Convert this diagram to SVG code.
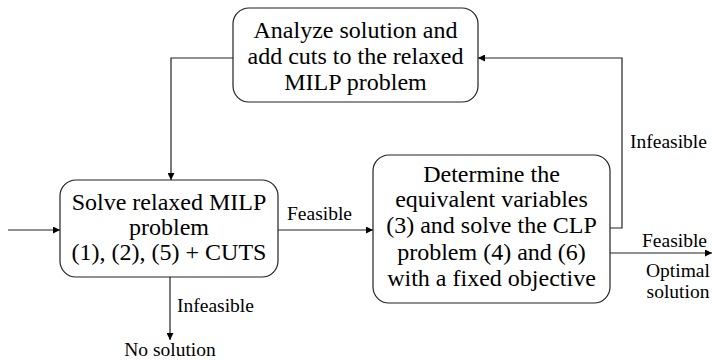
<svg xmlns="http://www.w3.org/2000/svg" width="713" height="360" viewBox="0 0 713 360" font-family="Liberation Serif, Times New Roman, Tinos, DejaVu Serif, serif">
  <style>
    .box { fill: #fff; stroke: #222; stroke-width: 1.2; }
    .edge { fill: none; stroke: #222; stroke-width: 1.2; marker-end: url(#arrow); }
    .node-text { font-size: 24px; fill: #000; text-anchor: middle; }
    .label { font-size: 19.5px; fill: #000; }
  </style>
  <defs>
    <marker id="arrow" viewBox="0 0 10 10" refX="10" refY="5" markerWidth="7" markerHeight="7" markerUnits="userSpaceOnUse" orient="auto">
      <path d="M0,0 L10,5 L0,10 z" fill="#000"/>
    </marker>
  </defs>
  <rect width="713" height="360" fill="#fff"/>

  <g id="connectors">
    <!-- start -->
    <path class="edge" d="M8,230 H60"/>
    <!-- MILP to CLP -->
    <path class="edge" d="M278,230 H373"/>
    <!-- MILP infeasible -->
    <path class="edge" d="M170,277 V340"/>
    <!-- CLP infeasible feedback to cut generation -->
    <path class="edge" d="M610,228 H622 V58 H478"/>
    <!-- cut generation back to MILP -->
    <path class="edge" d="M233,58 H171 V180"/>
    <!-- CLP feasible exit -->
    <path class="edge" d="M610,253 H712"/>
  </g>

  <g id="node-cuts">
    <rect class="box" x="233" y="8" width="245" height="94" rx="16"/>
    <text class="node-text" x="355.5" y="38">Analyze solution and</text>
    <text class="node-text" x="355.5" y="64">add cuts to the relaxed</text>
    <text class="node-text" x="355.5" y="90">MILP problem</text>
  </g>

  <g id="node-milp">
    <rect class="box" x="60" y="180" width="218" height="97" rx="16"/>
    <text class="node-text" x="169" y="210">Solve relaxed MILP</text>
    <text class="node-text" x="169" y="235">problem</text>
    <text class="node-text" x="169" y="260">(1), (2), (5) + CUTS</text>
  </g>

  <g id="node-clp">
    <rect class="box" x="373" y="155" width="237" height="148" rx="16"/>
    <text class="node-text" x="491.5" y="182">Determine the</text>
    <text class="node-text" x="491.5" y="207">equivalent variables</text>
    <text class="node-text" x="491.5" y="233">(3) and solve the CLP</text>
    <text class="node-text" x="491.5" y="260">problem (4) and (6)</text>
    <text class="node-text" x="491.5" y="286">with a fixed objective</text>
  </g>

  <g id="labels">
    <text class="label" x="287" y="220">Feasible</text>
    <text class="label" x="177" y="312">Infeasible</text>
    <text class="label" x="170" y="356" text-anchor="middle">No solution</text>
    <text class="label" x="630" y="148">Infeasible</text>
    <text class="label" x="642" y="247">Feasible</text>
    <text class="label" x="678" y="277" text-anchor="middle">Optimal</text>
    <text class="label" x="678" y="298" text-anchor="middle">solution</text>
  </g>
</svg>
